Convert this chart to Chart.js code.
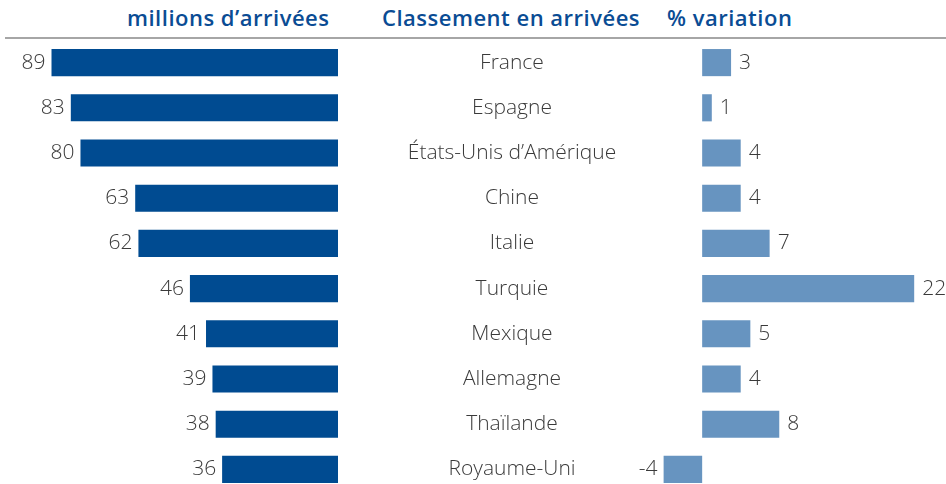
<!DOCTYPE html>
<html lang="fr">
<head>
<meta charset="utf-8">
<script src="https://cdn.jsdelivr.net/npm/chart.js@4"></script>
<style>
    html, body { margin: 0; padding: 0; width: 946px; height: 484px; overflow: hidden; background: #fff; }
    body { position: relative; font-family: "Open Sans", Roboto, "Liberation Sans", sans-serif; }
    .head { position: absolute; top: 2px; font-size: 22px; font-weight: 600; color: #0a4c94; white-space: nowrap; letter-spacing: 0.5px; }
    .rule { position: absolute; left: 5px; right: 0; top: 37px; height: 2px; background: #a6a6a6; }
    #left-wrap { position: absolute; left: 0; top: 40px; width: 700px; height: 452px; }
    #right-wrap { position: absolute; left: 600px; top: 40px; width: 346px; height: 452px; }
</style>
</head>
<body>
<div class="head" style="left:127px">millions d’arrivées</div>
<div class="head" style="left:382px">Classement en arrivées</div>
<div class="head" style="left:667px">% variation</div>
<div class="rule"></div>
<div id="left-wrap"><canvas id="chart-arrivals"></canvas></div>
<div id="right-wrap"><canvas id="chart-variation"></canvas></div>

<script>
const countries = ['France', 'Espagne', 'États-Unis d’Amérique', 'Chine', 'Italie', 'Turquie', 'Mexique', 'Allemagne', 'Thaïlande', 'Royaume-Uni'];
const arrivals = [89, 83, 80, 63, 62, 46, 41, 39, 38, 36];
const variation = [3, 1, 4, 4, 7, 22, 5, 4, 8, -4];

const labelFont = '300 21px "Open Sans", Roboto, "Liberation Sans", sans-serif';
const labelColor = '#3a3a3a';

// draws the value next to the end of each bar
const valueLabels = {
    id: 'valueLabels',
    afterDatasetsDraw(chart) {
        const ctx = chart.ctx;
        const meta = chart.getDatasetMeta(0);
        const values = chart.data.datasets[0].data;
        ctx.save();
        ctx.font = labelFont;
        ctx.fillStyle = labelColor;
        ctx.textBaseline = 'middle';
        meta.data.forEach((bar, i) => {
            const v = values[i];
            const leftSide = bar.x < bar.base;
            ctx.textAlign = leftSide ? 'right' : 'left';
            const x = leftSide ? bar.x - 6 : bar.x + 8;
            ctx.fillText(String(v), x, bar.y);
        });
        ctx.restore();
    }
};

// country names, centred in the gap between the two charts
const countryLabels = {
    id: 'countryLabels',
    afterDatasetsDraw(chart) {
        const ctx = chart.ctx;
        const meta = chart.getDatasetMeta(0);
        ctx.save();
        ctx.font = labelFont;
        ctx.fillStyle = labelColor;
        ctx.textAlign = 'center';
        ctx.textBaseline = 'middle';
        meta.data.forEach((bar, i) => {
            ctx.fillText(chart.data.labels[i], 512, bar.y);
        });
        ctx.restore();
    }
};

const leftCtx = document.getElementById('chart-arrivals').getContext('2d');
new Chart(leftCtx, {
    type: 'bar',
    data: {
        labels: countries,
        datasets: [{
            data: arrivals,
            backgroundColor: '#004b91',
            barPercentage: 0.6,
            categoryPercentage: 1
        }]
    },
    options: {
        indexAxis: 'y',
        responsive: true,
        maintainAspectRatio: false,
        animation: false,
        layout: { padding: { left: 0, right: 362, top: 0, bottom: 0 } },
        plugins: { legend: { display: false }, tooltip: { enabled: false } },
        scales: {
            x: { display: false, reverse: true, min: 0, max: 105 },
            y: { display: false }
        }
    },
    plugins: [valueLabels, countryLabels]
});

const rightCtx = document.getElementById('chart-variation').getContext('2d');
new Chart(rightCtx, {
    type: 'bar',
    data: {
        labels: countries,
        datasets: [{
            data: variation,
            backgroundColor: '#6794c0',
            barPercentage: 0.6,
            categoryPercentage: 1
        }]
    },
    options: {
        indexAxis: 'y',
        responsive: true,
        maintainAspectRatio: false,
        animation: false,
        layout: { padding: 0 },
        plugins: { legend: { display: false }, tooltip: { enabled: false } },
        scales: {
            x: { display: false, min: -10.6, max: 25.3 },
            y: { display: false }
        }
    },
    plugins: [valueLabels]
});
</script>
</body>
</html>
